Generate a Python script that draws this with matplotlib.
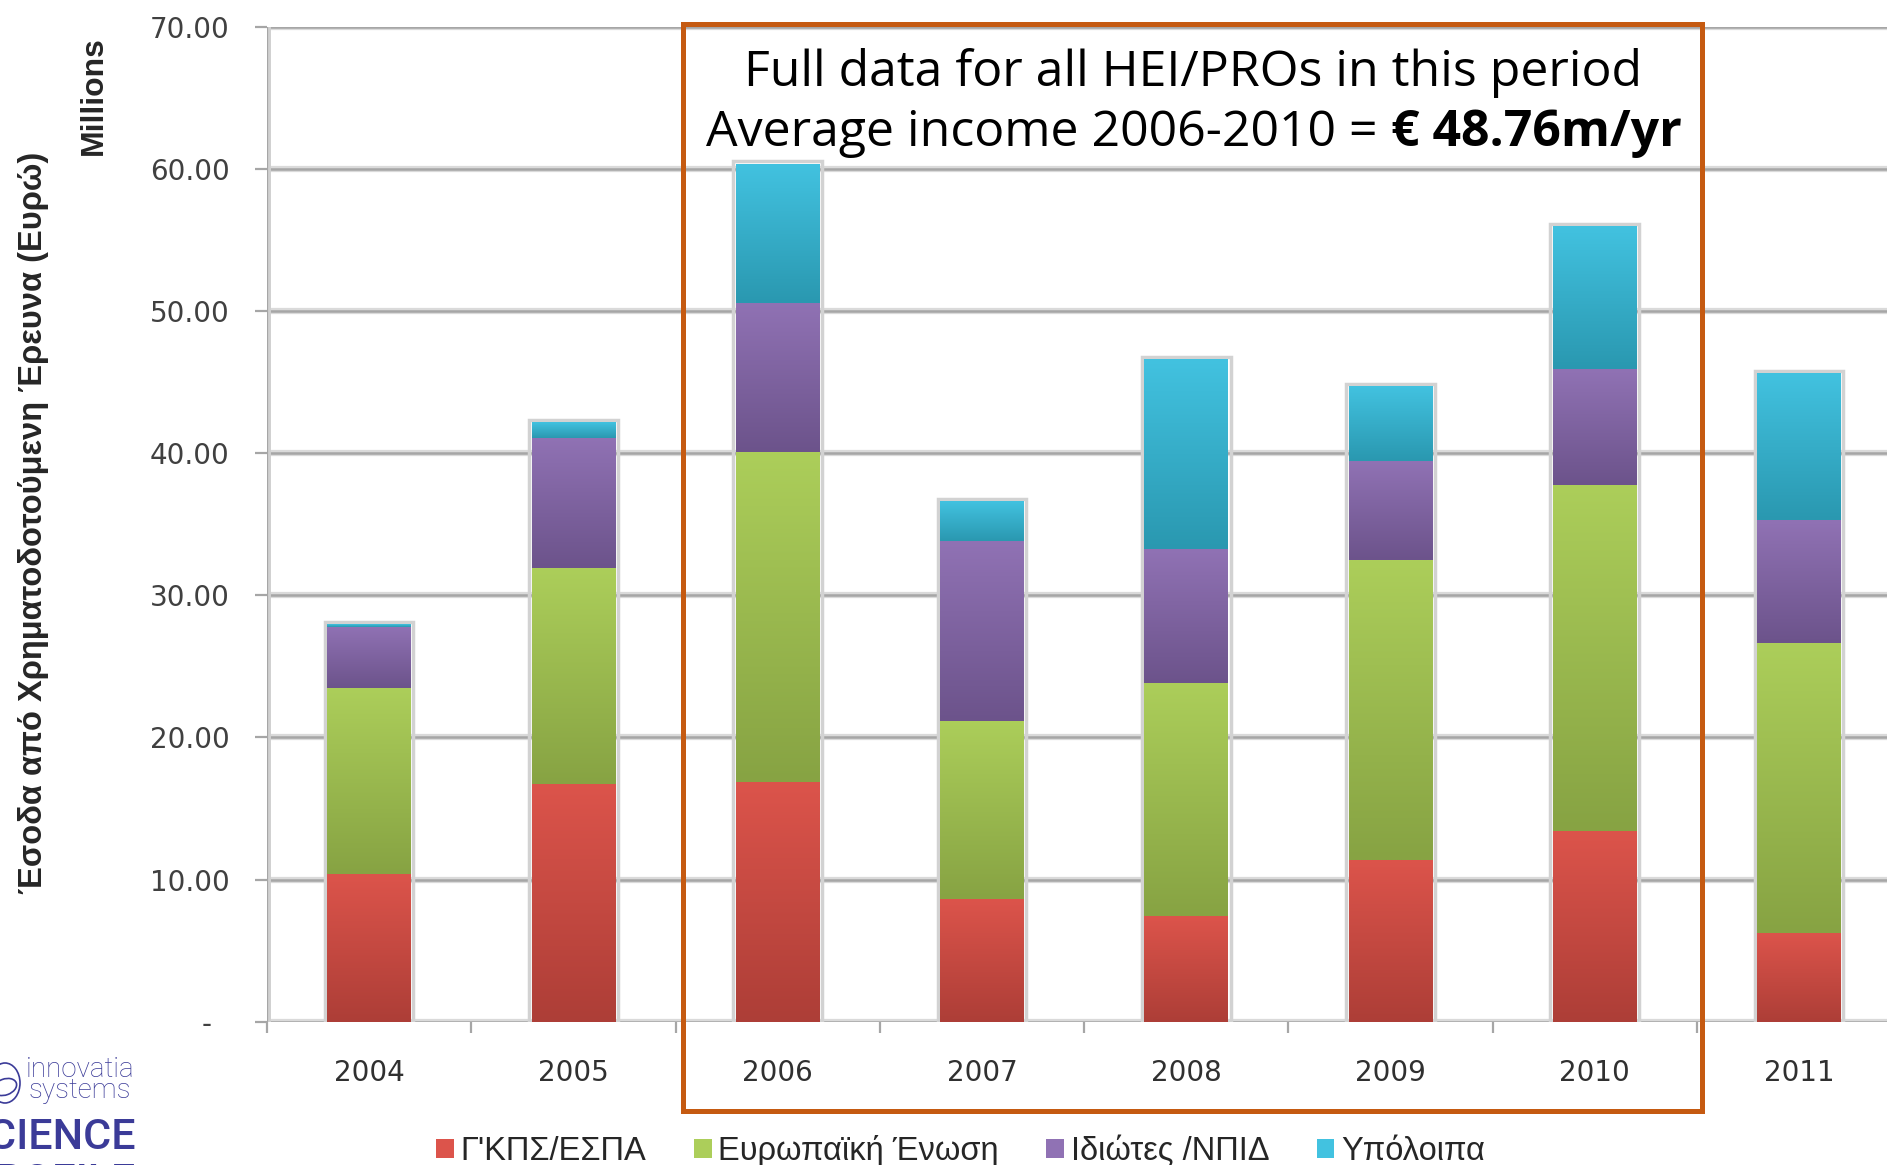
import matplotlib
matplotlib.use("Agg")
import matplotlib.pyplot as plt
import numpy as np
from matplotlib.colors import LinearSegmentedColormap
from matplotlib.patches import Patch, Rectangle, Ellipse
from matplotlib.transforms import IdentityTransform

# data (millions of euro)
years = ["2004", "2005", "2006", "2007", "2008", "2009", "2010", "2011"]
espa = [10.4, 16.75, 16.9, 8.6, 7.45, 11.4, 13.4, 6.25]
eu = [13.05, 15.15, 23.2, 12.55, 16.4, 21.1, 24.35, 20.4]
private = [4.35, 9.15, 10.5, 12.65, 9.4, 6.95, 8.15, 8.65]
other = [0.15, 1.1, 9.75, 2.75, 13.3, 5.25, 10.05, 10.3]

series_names = ["Γ'ΚΠΣ/ΕΣΠΑ", "Ευρωπαϊκή Ένωση", "Ιδιώτες /ΝΠΙΔ", "Υπόλοιπα"]
y_ticks = [0, 10, 20, 30, 40, 50, 60, 70]
y_ticklabels = ["-  ", "10.00", "20.00", "30.00", "40.00", "50.00", "60.00", "70.00"]

# (dark bottom, light top) for the excel-style gradient
grad_colors = [("#ad3e37", "#dc544b"),
               ("#87a343", "#acce5a"),
               ("#6c538b", "#9072b4"),
               ("#2a98b0", "#42c2e0")]

W, H = 1887, 1165
fig = plt.figure(figsize=(W / 100, H / 100), dpi=100)
ax = fig.add_axes([0.1415, 0.123, 0.866, 0.854])

x = np.arange(len(years))
w = 0.41
grad = np.linspace(0, 1, 200).reshape(-1, 1)
bottoms = np.zeros(len(years))
for vals, (c0, c1) in zip([espa, eu, private, other], grad_colors):
    cmap = LinearSegmentedColormap.from_list("g", [c0, c1])
    for i, v in enumerate(vals):
        ax.imshow(grad, extent=(x[i] - w / 2, x[i] + w / 2, bottoms[i], bottoms[i] + v),
                  origin="lower", aspect="auto", cmap=cmap, zorder=3, interpolation="bilinear")
    bottoms += np.array(vals)

# light outline around each stack
for i in range(len(years)):
    ax.add_patch(Rectangle((x[i] - w / 2 - 0.012, 0), w + 0.024, bottoms[i] + 0.2,
                           facecolor="none", edgecolor="#d2d2d2", lw=2.5, zorder=2))

ax.set_xlim(-0.5, 7.5)
ax.set_ylim(0, 70)

# grid lines with soft halo
for t in y_ticks:
    ax.axhline(t, color="#dadada", lw=4.5, zorder=1)
    ax.axhline(t, color="#a6a6a6", lw=1.8, zorder=1)
ax.axvline(-0.5, color="#d0d0d0", lw=5, zorder=1)
ax.axvline(-0.5, color="#a6a6a6", lw=1.6, zorder=1)

for s in ax.spines.values():
    s.set_visible(False)

ax.set_yticks(y_ticks)
ax.set_yticklabels(y_ticklabels)
ax.tick_params(axis="y", length=9, width=1.6, color="#a6a6a6", pad=18,
               labelsize=20, labelcolor="#404040")
ax.set_xticks(x)
ax.set_xticklabels(years)
ax.set_xticks(np.arange(-0.5, 8.0, 1.0), minor=True)
ax.tick_params(axis="x", which="major", length=0, pad=27, labelsize=20, labelcolor="#303030")
ax.tick_params(axis="x", which="minor", length=8, width=1.6, color="#a6a6a6")
for lab in ax.get_yticklabels() + ax.get_xticklabels():
    lab.set_family("DejaVu Sans")

# axis titles
fig.text(0.018, 0.551, "Έσοδα από Χρηματοδοτούμενη Έρευνα (Ευρώ)", rotation=90,
         ha="center", va="center", fontsize=23.5, fontweight="bold", color="#262626",
         family=["Liberation Sans", "DejaVu Sans"])
fig.text(0.0498, 0.918, "Millions", rotation=90, ha="center", va="center",
         fontsize=23, fontweight="bold", color="#262626",
         family=["Liberation Sans", "DejaVu Sans"])

# orange highlight box
fig.patches.append(Rectangle((0.3622, 0.0464), 0.5395, 0.933, transform=fig.transFigure,
                             facecolor="none", edgecolor="#c55a11", lw=3.6, zorder=10))
box_font = ["Open Sans", "DejaVu Sans"]
fig.text(0.632, 0.937, "Full data for all HEI/PROs in this period", ha="center", va="center",
         fontsize=36, color="black", family=box_font)
t_norm = fig.text(0, 0.886, "Average income 2006-2010 =", ha="left", va="center",
                  fontsize=36, color="black", family=box_font)
t_bold = fig.text(0, 0.886, "€ 48.76m/yr", ha="left", va="center",
                  fontsize=36, fontweight="bold", color="black", family=box_font)
r = fig.canvas.get_renderer()
w1 = t_norm.get_window_extent(r).width
w2 = t_bold.get_window_extent(r).width
gap = 13
start = 0.6327 * W - (w1 + gap + w2) / 2
t_norm.set_x(start / W)
t_bold.set_x((start + w1 + gap) / W)

# legend
handles = [Patch(facecolor=c1, edgecolor="none") for _, c1 in grad_colors]
leg = fig.legend(handles, series_names, loc="center", bbox_to_anchor=(0.509, 0.012),
                 ncol=4, frameon=False, handlelength=0.55, handleheight=0.55,
                 handletextpad=0.2, columnspacing=1.45,
                 prop={"family": ["Liberation Sans", "DejaVu Sans"], "size": 23.5})
for t in leg.get_texts():
    t.set_color("#262626")

# logo, cut at the figure edge
logo_blue = "#3b3b98"
fig.text(0.0138, 0.082, "innovatia", fontsize=20, color=logo_blue, ha="left", va="center",
         family=["Roboto", "DejaVu Sans"], fontweight="light")
fig.text(0.015, 0.064, "systems", fontsize=20, color=logo_blue, ha="left", va="center",
         family=["Roboto", "DejaVu Sans"], fontweight="light")
fig.text(0.072, 0.014, "SCIENCE", fontsize=31, color=logo_blue, ha="right", va="baseline",
         fontweight="medium", family=["Roboto", "DejaVu Sans"])
fig.text(0.072, -0.025, "PROFILE", fontsize=31, color=logo_blue, ha="right", va="baseline",
         fontweight="medium", family=["Roboto", "DejaVu Sans"])
fig.patches.append(Ellipse((5, 82), 30, 40, transform=IdentityTransform(),
                           facecolor="none", edgecolor=logo_blue, lw=1.2))
fig.patches.append(Ellipse((5, 78), 24, 16, angle=20, transform=IdentityTransform(),
                           facecolor="none", edgecolor=logo_blue, lw=1.2))

fig.savefig("out.png", dpi=100, facecolor="white")
